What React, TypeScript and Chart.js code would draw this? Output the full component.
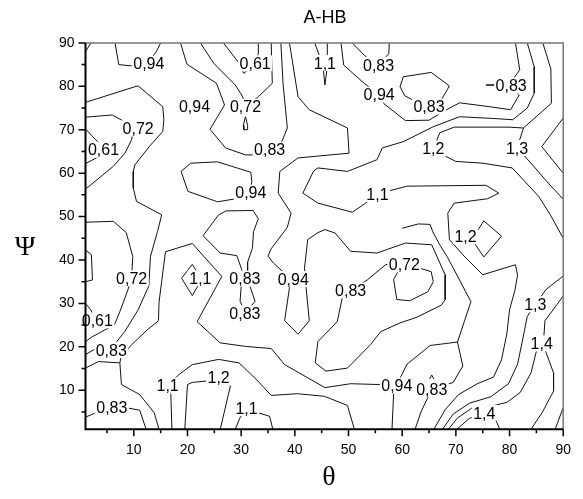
import React, { useEffect, useRef } from 'react';
import { Chart, registerables } from 'chart.js';
Chart.register(...registerables);

type P = [number, number];

// ---- contour polylines (theta, psi) ----
const lineA01: P[] = [[1,88],[2,90]];
const lineA02: P[] = [[6.5,90],[7.2,85],[9.6,84.7],[12.5,85.2],[14.2,88],[15,90]];
const lineA03: P[] = [[1,76.3],[10.2,79.9],[10.8,80.1],[15.4,75.3],[15.6,72.3],[15.4,69.6],[13,66.3],[10.2,61.9],[9.9,60.4],[9.9,56.6],[10.5,53.5],[15.2,50.4],[14.4,46.5],[13.1,40.8],[12.8,34],[10.8,28.5],[8.3,23.5],[6.4,20.5],[2.9,19.6],[1,18.2]];
const lineA04: P[] = [[1,72.9],[6,73.4],[7.9,72.1],[9.8,69.5],[9.6,67.7],[8.35,64.6],[6.2,61.6],[1,56.3]];
const lineA05: P[] = [[1,70.2],[2.8,67.8],[5,65.3],[3,63.5],[1,62.2]];
const lineA06: P[] = [[1,48.7],[6.2,48.9],[8.6,46.3],[9.8,40.8],[9.6,36],[8.9,33.1],[7.4,28.1],[6.4,25.1],[2.1,22.2],[1,21.2]];
const lineA07: P[] = [[1,30],[2,28.5],[2.6,27],[1.5,25.6],[1,25.3]];
const lineA08: P[] = [[1,42.3],[2.1,41.2],[2.3,35.4],[1,35]];
const lineA09: P[] = [[1,15.1],[3.4,16.6],[7.4,16.3],[7.7,11.3],[11.1,9],[13.8,4.8],[14.7,1]];
const lineA10: P[] = [[1,3.8],[2.9,4.8],[6,6],[8.9,5.9],[11.1,5.4],[12.3,1]];
const lineA11: P[] = [[17.1,1],[16.9,9],[16.3,11.1],[18.4,13.6],[20.9,15.9],[25.8,17.1],[29.6,16.3],[32.9,12.4],[35.6,8.8],[40.5,9.2],[45.5,8.6],[49.8,6.5],[51.1,1]];
const lineA12: P[] = [[19.5,1],[20,11.3],[20.9,11.8],[23.4,12.1],[25.8,12.9],[28,11],[26.1,1]];
const lineA13: P[] = [[28.9,1],[29.8,3.7],[31,5.9],[33.2,4.8],[35.3,4],[35.9,1]];
const lineA14: P[] = [[18.9,35.8],[20.9,39],[22.6,35.5],[20.9,31.8],[18.9,35.8]];
const lineB01: P[] = [[22.4,90],[24.9,85.3],[28.9,80.3],[30.1,78],[31,75.5],[33.2,77.6],[35.8,80.7],[35.6,90]];
const lineB02: P[] = [[26.7,90],[29.5,85.5],[30.5,83],[32.4,85],[33.2,87.5],[33.2,90]];
const lineB03: P[] = [[30.8,73],[30.4,71],[30.5,70],[31.1,70],[31.2,71],[30.8,73]];
const lineB04: P[] = [[18.7,90],[19.9,85.1],[25.4,80.7],[26.9,75.7],[24.2,70.1],[27.1,65.8],[30.8,64.2],[32.3,64.2],[35.3,65.3],[37.6,67.3],[38.6,70.4],[37.8,80.7],[37.4,90]];
const lineB05: P[] = [[18.8,60.4],[20.6,62.3],[25.6,62.6],[31.8,60.2],[32,58],[31.5,55.5],[29,54.1],[25.6,53.4],[20.1,55.8],[18.8,60.4]];
const lineB06: P[] = [[22.9,45.6],[25.8,50.4],[27.2,51.3],[32.2,51.4],[33.2,49.5],[32.3,46.5],[32.1,42.7],[31.2,39.5],[31.2,35.5],[32.6,30.5],[30.8,27.8],[29.8,30.5],[30.1,35.5],[30.1,37.8],[29.2,41],[26.1,41.6],[22.9,45.6]];
const lineB07: P[] = [[39,90],[40.6,77.6],[42.7,74.6],[49.8,70.4],[50.1,64.6],[40.6,63.5],[37.2,60.4],[36.9,55.4],[39.3,50.8],[38.6,47.5],[35.6,42.6],[35,40.9],[36,39.3],[38.5,36.5],[39,33.6],[38.1,26],[40.6,22.9],[42.7,26],[42.1,33.6],[41.8,38.1],[42.4,44.7],[44.3,46.3],[45.6,47],[47.5,46.2],[50.4,42],[55.3,41.6],[60.6,43.9],[65.5,43.5],[68,36.6],[68,30.9],[67.3,29.6],[62.7,26.8],[59.6,25.5],[56,23.5],[54.1,20.5],[49.8,15.1],[45.8,14.4],[43.8,16.3],[44.3,21.2],[47.9,25.8],[48.9,31.6],[50.4,33],[53.5,35.4],[56.9,38.9],[59.2,39.2]];
const lineB08: P[] = [[59.8,38.6],[58.4,35.5],[59,30.9],[61.4,30.6],[64.8,32.7],[65.8,35],[65.4,37.3],[63.3,38.1],[61.5,38.6],[59.8,38.6]];
const lineB09: P[] = [[7.4,16.3],[7.6,17.5],[9.6,20.5],[12.6,24],[14.6,26],[14.7,30.3],[15.9,41.9],[20.9,43.8],[26.4,36.2],[21.8,25.8],[26.1,20.9],[30.8,20.1],[35.6,19.6],[38.1,15.9],[45.6,10.6],[50.4,11.5],[56,11.3],[59,11.2],[60.9,16],[65.2,20.3],[70.3,21.1]];
const lineB10: P[] = [[58.1,1],[58.4,9.1],[59,11.2]];
const lineB11: P[] = [[60,47.3],[63,48.3],[65.2,48.2],[65.7,46.5],[67,43.5],[68.5,40.5],[70,37],[72.8,30.4],[70.3,21.1],[71.3,15.6],[69.5,11.8],[65.5,10.2],[63.5,5],[62.4,1]];
const lineB12: P[] = [[65.1,12.6],[65.5,13.5],[65.9,12.6]];
const lineC01: P[] = [[43.7,90],[44.6,87],[45.3,84],[45.6,80.3],[46,84],[46.1,87],[46,90]];
const lineC02: P[] = [[50.7,90],[52.9,87.2],[55.3,84.7],[57.5,87.5],[57.6,90]];
const lineC03: P[] = [[48.6,90],[49.1,84.9],[52.9,80.7],[55.3,78.5],[56.6,76],[60.6,72.1],[65,72.2],[68.4,74.7],[70.7,76.2],[76.3,75.3],[80.2,74.6],[81.8,78],[80,80.1],[75.6,80.3],[80,80.5],[81.9,83.8],[81.1,90]];
const lineC04: P[] = [[60.2,82.2],[65.4,83.2],[68.8,80.1],[67.3,76.9],[64.8,76.6],[62.4,76.6],[60.5,77.8],[59.6,79.9],[60.2,82.2]];
const lineC05: P[] = [[83.3,90],[84.6,84.5],[84.6,78.4],[83.3,75],[80.6,72.3],[76.9,72.6],[70.7,73],[65.8,70.7],[60.3,67.3],[56.3,65.8],[55.3,63.1],[49.8,60.4],[44.3,61.2],[43.5,60.5],[41.5,55.4],[44.3,53.1],[50.7,51],[53.2,53.1],[55.3,55.2],[57.2,55.8],[60.9,57],[75.6,57.2],[78,55.4],[75.9,54.1],[69.7,53.1],[68.5,50.8],[68.8,44.7],[71.3,41.2],[75,36.6],[81.1,38.9],[81.5,36.5],[81,33],[80,28.5],[79.5,23],[78.5,17],[77,13],[74,11.5],[70.5,9],[68,5.5],[65.9,1]];
const lineC06: P[] = [[73,44.7],[75.2,49],[78.5,45.5],[75.2,40.7],[73,44.7]];
const lineC07: P[] = [[86.2,90],[87.7,84],[87.8,76.1],[82.6,70.4],[79.9,70.6],[69.7,70.6],[67,69.3],[65.8,65.6],[67.6,64.2],[70,62.7],[75,62.3],[80.5,61.2],[85.4,54.7],[87.6,50.4],[90,45]];
const lineC08: P[] = [[82.6,70.4],[81.4,65.8],[84,62.3],[87,58],[90,54]];
const lineC09: P[] = [[90,72.7],[86,66.1],[90,60]];
const lineC10: P[] = [[90,36.3],[86.8,33.2],[84.8,29.8],[83.3,27],[82.5,22],[81.5,16],[79.8,11.5],[76.5,8.5],[72.5,7],[69.5,4.5],[67.5,1]];
const lineC11: P[] = [[90,31.7],[86.6,26],[86.4,22.5],[86.1,20.7],[86.8,18.7],[88.2,14],[88.2,9.8],[86.1,4.9],[84,1]];
const lineC12: P[] = [[70.2,1],[72.5,3.5],[75.3,4.8],[77.3,3.5],[78.2,1]];
const lineC13: P[] = [[90,6],[88.5,1]];
const lineC14: P[] = [[68.6,1],[70.3,3.6],[73,5.9],[76.5,6.3],[79.5,7.2],[82,9.5],[84,14],[85,19]];

const contourLines: P[][] = [
  lineA01, lineA02, lineA03, lineA04, lineA05, lineA06, lineA07, lineA08, lineA09, lineA10,
  lineA11, lineA12, lineA13, lineA14, lineB01, lineB02, lineB03, lineB04, lineB05, lineB06,
  lineB07, lineB08, lineB09, lineB10, lineB11, lineB12, lineC01, lineC02, lineC03, lineC04,
  lineC05, lineC06, lineC07, lineC08, lineC09, lineC10, lineC11, lineC12, lineC13, lineC14,
];

// ---- contour labels ----
const labelText = ['0,94','0,61','1,1','0,83','0,83','0,94','0,72','0,94','0,83','0,72','0,61','0,83','1,2','1,3','0,94','1,1','1,2','0,72','1,1','0,83','0,94','0,83','0,72','0,83','0,61','1,3','0,83','1,4','1,1','1,2','0,94','0,83','0,83','1,1','1,4'];
const labelX = [12.8,32.6,45.6,55.6,80.3,21.3,30.8,55.7,65.0,10.8,4.35,35.3,65.8,81.4,31.8,55.4,71.8,9.6,22.4,30.7,39.7,30.7,60.4,50.4,3.2,84.8,5.8,86.0,16.3,25.8,59.0,65.5,5.9,31.0,75.3];
const labelY = [85.2,85.3,85.4,84.9,80.2,75.3,75.3,78.1,75.3,70.3,65.4,65.4,65.7,65.8,55.5,55.2,45.5,35.8,35.8,35.7,35.6,27.7,39.0,33.0,26.1,29.8,19.3,20.8,11.1,12.9,11.1,10.2,6.0,5.9,4.8];

const xTickValues = [10, 20, 30, 40, 50, 60, 70, 80, 90];
const yTickValues = [10, 20, 30, 40, 50, 60, 70, 80, 90];

const SANS = '"Liberation Sans", Arial, sans-serif';
const SERIF = '"Liberation Serif", "Times New Roman", serif';

export default function App() {
  const ref = useRef<HTMLCanvasElement>(null);
  useEffect(() => {
    document.body.style.margin = '0';
    const canvas = ref.current;
    if (!canvas) return;
    const datasets = contourLines.map((pts) => ({
      data: pts.map(([x, y]) => ({ x, y })),
      showLine: true,
      borderColor: '#111',
      borderWidth: 1,
      pointRadius: 0,
      pointHoverRadius: 0,
      fill: false,
      tension: 0,
    }));

    const decor = {
      id: 'decor',
      afterDatasetsDraw(chart: any) {
        const ctx = chart.ctx;
        const xs = chart.scales.x;
        const ys = chart.scales.y;
        ctx.save();
        ctx.font = '16px ' + SANS;
        ctx.textAlign = 'center';
        ctx.textBaseline = 'alphabetic';
        for (let i = 0; i < labelText.length; i++) {
          const px = xs.getPixelForValue(labelX[i]);
          const py = ys.getPixelForValue(labelY[i]);
          const w = ctx.measureText(labelText[i]).width;
          ctx.fillStyle = '#fff';
          ctx.fillRect(px - w / 2 - 1.5, py - 8, w + 3, 16);
          ctx.fillStyle = '#000';
          ctx.fillText(labelText[i], px, py + 5.7);
        }
        ctx.restore();
      },
      afterDraw(chart: any) {
        const ctx = chart.ctx;
        const a = chart.chartArea;
        const xs = chart.scales.x;
        const ys = chart.scales.y;
        ctx.save();
        ctx.strokeStyle = '#777';
        ctx.lineWidth = 1.5;
        ctx.beginPath();
        ctx.moveTo(a.left, a.top);
        ctx.lineTo(a.right, a.top);
        ctx.lineTo(a.right, a.bottom);
        ctx.stroke();
        ctx.strokeStyle = '#000';
        ctx.lineWidth = 2;
        ctx.beginPath();
        ctx.moveTo(a.left, a.top);
        ctx.lineTo(a.left, a.bottom);
        ctx.lineTo(a.right, a.bottom);
        ctx.stroke();
        ctx.lineWidth = 1.5;
        ctx.beginPath();
        for (let v = 5; v <= 90; v += 5) {
          const len = v % 10 === 0 ? 7 : 4;
          const px = xs.getPixelForValue(v);
          ctx.moveTo(px, a.bottom);
          ctx.lineTo(px, a.bottom + len);
          const py = ys.getPixelForValue(v);
          ctx.moveTo(a.left, py);
          ctx.lineTo(a.left - len, py);
        }
        ctx.stroke();
        ctx.fillStyle = '#000';
        ctx.textAlign = 'center';
        ctx.textBaseline = 'middle';
        ctx.font = '18px ' + SANS;
        ctx.fillText('A-HB', 325, 18);
        ctx.font = '28px ' + SERIF;
        ctx.fillText('\u03B8', 329, 478);
        ctx.fillText('\u03A8', 25, 248);
        ctx.restore();
      },
    };

    const chart = new Chart(canvas, {
      type: 'scatter',
      data: { datasets },
      options: {
        responsive: false,
        animation: false,
        events: [],
        layout: { padding: { left: 0, right: 14.7, top: 42.9, bottom: 0 } },
        plugins: { legend: { display: false }, tooltip: { enabled: false }, title: { display: false } },
        scales: {
          x: {
            type: 'linear',
            min: 1,
            max: 90,
            afterBuildTicks: (s: any) => { s.ticks = xTickValues.map((v) => ({ value: v })); },
            afterFit: (s: any) => { s.height = 69.7; },
            grid: { display: false, drawTicks: false },
            border: { display: false },
            ticks: { color: '#000', font: { family: SANS, size: 14 }, padding: 12, maxRotation: 0, autoSkip: false },
          },
          y: {
            type: 'linear',
            min: 1,
            max: 90,
            afterBuildTicks: (s: any) => { s.ticks = yTickValues.map((v) => ({ value: v })); },
            afterFit: (s: any) => { s.width = 85.5; },
            grid: { display: false, drawTicks: false },
            border: { display: false },
            ticks: { color: '#000', font: { family: SANS, size: 14 }, padding: 11, autoSkip: false },
          },
        },
      },
      plugins: [decor],
    } as any);
    return () => chart.destroy();
  }, []);
  return (
    <div style={{ width: 583, height: 499 }}>
      <canvas ref={ref} width={583} height={499} style={{ display: 'block' }} />
    </div>
  );
}
